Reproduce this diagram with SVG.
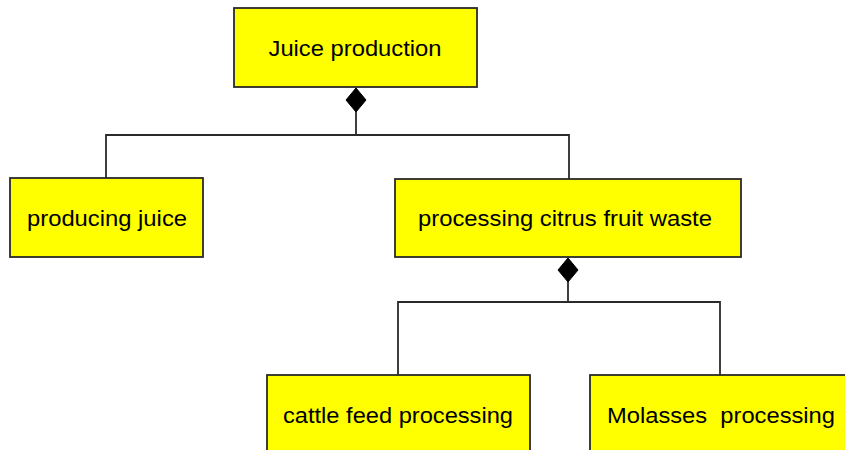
<svg xmlns="http://www.w3.org/2000/svg" width="845" height="450" viewBox="0 0 845 450">
  <style>
    .box { fill: #ffff00; stroke: #2a2a2a; stroke-width: 1.8; }
    .label { font-family: "Liberation Sans", Arial, sans-serif; font-size: 22px; fill: #000000; }
    .wire { fill: none; stroke: #2a2a2a; stroke-width: 1.8; }
    .diamond { fill: #000000; stroke: #000000; stroke-width: 1; }
  </style>

  <rect width="845" height="450" fill="#ffffff"/>

  <!-- connectors: composition links with filled diamonds at the parent -->
  <g id="connectors">
    <polyline class="wire" points="106,178 106,135 569,135 569,179"/>
    <line class="wire" x1="356" y1="112" x2="356" y2="135"/>
    <polygon class="diamond" points="356,88 366,100 356,112 346,100"/>

    <polyline class="wire" points="398,375 398,302 720,302 720,375"/>
    <line class="wire" x1="568" y1="282" x2="568" y2="302"/>
    <polygon class="diamond" points="568,258 578,270 568,282 558,270"/>
  </g>

  <g id="juice-production">
    <rect class="box" x="234" y="8" width="243" height="79"/>
    <text class="label" x="355" y="56" text-anchor="middle" textLength="173" lengthAdjust="spacingAndGlyphs">Juice production</text>
  </g>

  <g id="producing-juice">
    <rect class="box" x="10" y="178" width="193" height="79"/>
    <text class="label" x="107" y="226" text-anchor="middle" textLength="160" lengthAdjust="spacingAndGlyphs">producing juice</text>
  </g>

  <g id="processing-citrus-fruit-waste">
    <rect class="box" x="395" y="179" width="346" height="78"/>
    <text class="label" x="565" y="226" text-anchor="middle" textLength="294" lengthAdjust="spacingAndGlyphs">processing citrus fruit waste</text>
  </g>

  <g id="cattle-feed-processing">
    <rect class="box" x="267" y="375" width="263" height="90"/>
    <text class="label" x="398" y="423" text-anchor="middle" textLength="230" lengthAdjust="spacingAndGlyphs">cattle feed processing</text>
  </g>

  <g id="molasses-processing">
    <rect class="box" x="590" y="375" width="270" height="90"/>
    <text class="label" x="607" y="423" xml:space="preserve" textLength="228" lengthAdjust="spacingAndGlyphs">Molasses  processing</text>
  </g>
</svg>
